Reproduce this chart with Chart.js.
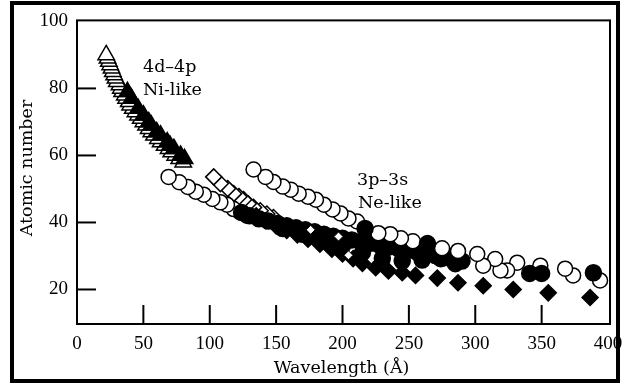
<!DOCTYPE html>
<html>
<head>
<meta charset="utf-8">
<script src="https://cdn.jsdelivr.net/npm/chart.js@4"></script>
<style>
  html, body { margin: 0; padding: 0; background: #fff; }
  canvas { display: block; }
</style>
</head>
<body>
<canvas id="chart" width="623" height="391"></canvas>
<script>
// axis ticks
const xTicks = [0, 50, 100, 150, 200, 250, 300, 350, 400];
const yTicks = [20, 40, 60, 80, 100];

// 4d-4p Ni-like, open triangles (ordered so the upper ones sit on top)
const niOpenZ  = [58, 59, 60, 61, 62, 63, 64, 65, 66, 67, 68, 69, 70, 71, 72, 73, 74, 75, 76, 77, 78, 79, 80, 81, 82, 83, 84, 85, 86, 87, 88, 89, 90];
const niOpenWl = [80, 77, 74, 71, 69, 66, 63, 61, 58, 56, 54, 52, 50, 48, 46, 44, 42, 40, 39, 37, 36, 34, 33, 32, 30, 29, 28, 27, 26, 25, 24, 23, 22];
// 4d-4p Ni-like, filled triangles
const niFillZ  = [59, 60, 62, 63, 64, 66, 67, 69, 70, 72, 74, 77, 79];
const niFillWl = [81, 78, 73, 70, 68, 63, 60, 56, 54, 50, 46, 41, 38];

// 3p-3s Ne-like, lower open circle branch
const neLowWl = [128, 123, 118, 113, 108, 102, 95.5, 89.5, 83.5, 77, 69];
const neLowZ  = [42, 43, 44, 45.3, 46, 47, 48.3, 49.2, 50.6, 52, 53.6];
// open diamond branch
const neDiaWl = [148, 143, 138, 133, 129, 125.5, 122, 118, 113.5, 108, 103];
const neDiaZ  = [41.5, 42.5, 43.5, 44.5, 45.6, 46.8, 47.7, 48.6, 50.1, 51.6, 53.6];
// upper open circle branch
const neUpWl = [394, 373.7, 367.7, 349, 331.6, 324, 319, 315, 306, 301.5, 287, 275, 253, 244, 236, 227, 211, 204.5, 198.5, 192.5, 186, 180, 174, 167, 161, 155, 148, 142, 133];
const neUpZ  = [22.7, 24.2, 26.2, 27.1, 28, 25.7, 25.7, 29.1, 27.1, 30.6, 31.5, 32.3, 34.4, 35.3, 36.5, 36.8, 40.3, 41.2, 42.7, 43.9, 45.3, 46.8, 47.7, 48.6, 49.8, 50.7, 52.1, 53.6, 55.8];
// filled circles on the upper branch
const neDotWl = [389, 350, 341, 264, 217];
const neDotZ  = [25, 24.8, 24.8, 33.7, 38.2];
// filled circles, lower band (upper row and middle row)
const neBandWl = [290, 284, 277, 270, 263, 256, 249, 242, 235, 228, 221, 214, 207, 200, 193, 186, 179, 172, 165, 158, 151, 144, 137, 130, 124];
const neBandZ  = [28.5, 29, 29.5, 30.1, 30.7, 31.2, 31.7, 32.2, 32.7, 33.2, 33.8, 34.3, 34.8, 35.3, 35.9, 36.5, 37.2, 37.8, 38.4, 39, 39.7, 40.4, 41.1, 42, 43];
const neMidWl = [285, 274, 260, 245, 230, 215, 200, 185, 170, 155];
const neMidZ  = [27.7, 29.2, 28.8, 28.5, 29.3, 31, 33, 34.6, 36.5, 38.2];
// filled diamonds
const neSolidWl = [386.5, 355, 328.6, 306, 287, 271.4, 255, 245, 234.6, 225, 215, 208, 200, 192, 183, 174, 166, 158, 150, 142, 135];
const neSolidZ  = [17.6, 19, 20, 21.1, 22, 23.4, 24.2, 25, 25.5, 26.5, 27.8, 29.2, 30.6, 32, 33.5, 35, 36.3, 37.6, 39, 40.5, 42];
// open diamonds showing through the band
const neGapWl = [176, 197, 204.5];
const neGapZ  = [37.8, 35.8, 30.2];

const pts = (xs, ys) => xs.map((v, i) => ({ x: v, y: ys[i] }));

function series(xs, ys, style, fill, r, bw) {
  return {
    data: pts(xs, ys),
    pointStyle: style,
    pointRadius: r,
    pointBorderWidth: bw || 1.5,
    pointBackgroundColor: fill,
    pointBorderColor: '#000',
    showLine: false
  };
}

const serif = '"DejaVu Serif", serif';

// frame, inward ticks, outer box and the text labels
const decorations = {
  id: 'decorations',
  afterDatasetsDraw(chart) {
    const { ctx, chartArea: a, scales: { x, y } } = chart;
    ctx.save();
    ctx.strokeStyle = '#000';
    ctx.lineWidth = 2;
    ctx.strokeRect(a.left, a.top, a.right - a.left, a.bottom - a.top);

    x.ticks.forEach(t => {
      const px = x.getPixelForValue(t.value);
      if (px - a.left < 4 || a.right - px < 4) return;
      ctx.beginPath();
      ctx.moveTo(px, a.bottom);
      ctx.lineTo(px, a.bottom - 19);
      ctx.stroke();
    });
    y.ticks.forEach(t => {
      const py = y.getPixelForValue(t.value);
      if (py - a.top < 4 || a.bottom - py < 4) return;
      ctx.beginPath();
      ctx.moveTo(a.left, py);
      ctx.lineTo(a.left + 19, py);
      ctx.stroke();
    });

    // outer border of the figure
    ctx.lineWidth = 4;
    ctx.strokeRect(12, 3, 606, 378);

    ctx.fillStyle = '#000';
    ctx.font = '17.5px ' + serif;
    ctx.textBaseline = 'alphabetic';
    ctx.textAlign = 'left';
    ctx.fillText('4d\u20134p', 143, 72);
    ctx.fillText('Ni-like', 143, 95);
    ctx.fillText('3p\u20133s', 357, 185);
    ctx.fillText('Ne-like', 358, 208);

    ctx.textAlign = 'center';
    ctx.fillText('Wavelength (\u00c5)', (a.left + a.right) / 2 - 2, 373);

    ctx.translate(32, 168);
    ctx.rotate(-Math.PI / 2);
    ctx.fillText('Atomic number', 0, 0);
    ctx.restore();
  }
};

const tickFont = { family: '"Liberation Serif", serif', size: 19 };

new Chart(document.getElementById('chart'), {
  type: 'scatter',
  data: {
    datasets: [
      series(niFillWl, niFillZ, 'triangle', '#000', 9.5),
      series(niOpenWl, niOpenZ, 'triangle', '#fff', 9.5),
      series(neDotWl, neDotZ, 'circle', '#000', 8),
      series(neUpWl, neUpZ, 'circle', '#fff', 7.5),
      series(neGapWl, neGapZ, 'rectRot', '#fff', 4.5, 1),
      series(neBandWl, neBandZ, 'circle', '#000', 8),
      series(neMidWl, neMidZ, 'circle', '#000', 8),
      series(neSolidWl, neSolidZ, 'rectRot', '#000', 8),
      series(neLowWl, neLowZ, 'circle', '#fff', 7.5),
      series(neDiaWl, neDiaZ, 'rectRot', '#fff', 8)
    ]
  },
  options: {
    responsive: false,
    animation: false,
    events: [],
    layout: { padding: { left: 0, right: 13, top: 17, bottom: 0 } },
    plugins: {
      legend: { display: false },
      tooltip: { enabled: false }
    },
    scales: {
      x: {
        type: 'linear',
        min: 0,
        max: 401.5,
        afterBuildTicks: s => { s.ticks = xTicks.map(v => ({ value: v })); },
        afterFit: s => { s.height = 67; s.paddingLeft = 0; s.paddingRight = 0; },
        grid: { display: false, drawTicks: false },
        border: { display: false },
        ticks: { color: '#000', font: tickFont, padding: 9, maxRotation: 0, autoSkip: false }
      },
      y: {
        type: 'linear',
        min: 9.7,
        max: 100.3,
        afterBuildTicks: s => { s.ticks = yTicks.map(v => ({ value: v })); },
        afterFit: s => { s.width = 77; },
        grid: { display: false, drawTicks: false },
        border: { display: false },
        ticks: { color: '#000', font: tickFont, padding: 9 }
      }
    }
  },
  plugins: [decorations]
});
</script>
</body>
</html>
